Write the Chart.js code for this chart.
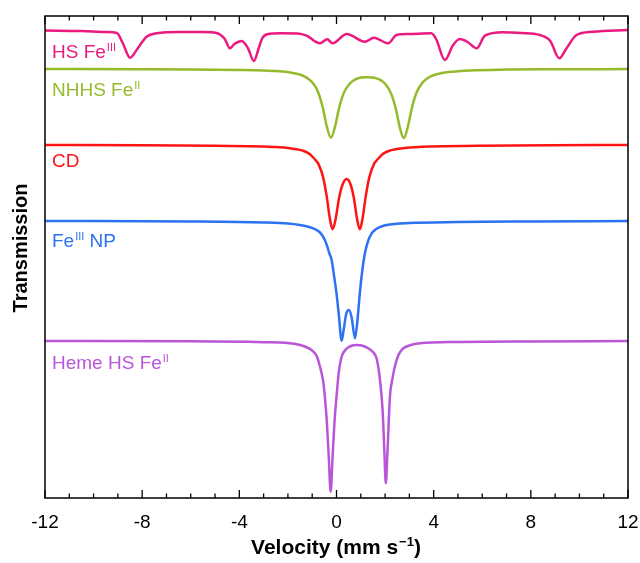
<!DOCTYPE html>
<html>
<head>
<meta charset="utf-8">
<script src="https://cdn.jsdelivr.net/npm/chart.js@4.4.1/dist/chart.umd.min.js"></script>
<style>
  html, body { margin: 0; padding: 0; background: #fff; }
  #wrap { width: 640px; height: 563px; }
</style>
</head>
<body>
<div id="wrap"><canvas id="spectra" width="640" height="563"></canvas></div>
<script>
// velocity axis
const velocityTicks = [-12, -8, -4, 0, 4, 8, 12];
const minorTicks = [-11, -10, -9, -7, -6, -5, -3, -2, -1, 1, 2, 3, 5, 6, 7, 9, 10, 11];

// vertical stacking offset of each spectrum baseline
const offsets = [467, 429, 353, 277, 157];

// [velocity mm/s, transmission relative to baseline]
const hsFe3 = [
  [-12, 0.5], [-10.5, 0], [-9.5, -1], [-9.04, -2], [-8.8, -12], [-8.5, -26.7], [-8.23, -19],
  [-8.0, -11], [-7.82, -5.7], [-7.4, -2.3], [-6.5, -1], [-5.5, -1], [-4.94, -2], [-4.6, -8],
  [-4.39, -17.3], [-4.2, -13], [-3.9, -10], [-3.65, -17], [-3.4, -30], [-3.2, -17], [-3.06, -7.3],
  [-2.85, -3.3], [-2.3, -2.3], [-1.6, -2.5], [-1.23, -4.7], [-0.68, -12.3], [-0.38, -8.3],
  [-0.16, -12.3], [0.42, -3], [1.17, -10.7], [1.54, -6.7], [2.13, -12.3], [2.47, -4], [3.0, -3],
  [3.9, -2.3], [4.1, -8], [4.46, -29], [4.8, -14], [5.08, -8], [5.4, -11], [5.77, -17.3],
  [6.11, -4.7], [6.85, -1.3], [7.6, -2], [8.37, -4], [8.8, -10], [9.17, -27.3], [9.47, -17.3],
  [9.88, -4], [10.56, -0.7], [12, 1]
];
const nhhsFe2 = [
  [-12, 0], [-8, -0.2], [-6, -0.4], [-4, -0.9], [-3, -1.4], [-2.6, -1.9], [-2.2, -2.6], [-1.8, -4],
  [-1.6, -5], [-1.4, -6.5], [-1.25, -8.4], [-1.1, -11], [-1.0, -13.3], [-0.9, -16.4], [-0.8, -20.7],
  [-0.7, -27], [-0.55, -40], [-0.4, -57.5], [-0.23, -68.7], [-0.05, -56.7], [0.1, -39.6], [0.3, -24.1],
  [0.55, -14.5], [0.8, -10.2], [1.0, -8.6], [1.24, -8.2], [1.5, -8.4], [1.75, -10.3], [2.0, -14.7],
  [2.25, -24.6], [2.45, -40.6], [2.6, -57.9], [2.77, -69], [2.95, -56.5], [3.1, -39.2], [3.3, -23.3],
  [3.55, -13.3], [3.7, -9.9], [3.9, -7.1], [4.12, -5.2], [4.35, -3.9], [4.6, -3], [5.5, -1.4],
  [7, -0.6], [9, -0.3], [12, -0.1]
];
const cdFe = [
  [-12, 0], [-8, -0.3], [-5, -0.8], [-3, -1.4], [-2.5, -2.1], [-2, -2.9], [-1.5, -4.9], [-1.35, -6],
  [-1.2, -7.6], [-1.08, -9.5], [-0.96, -12.5], [-0.85, -15.5], [-0.75, -18.6], [-0.55, -32.4],
  [-0.4, -51.9], [-0.28, -72.5], [-0.16, -84.3], [-0.04, -74.6], [0.1, -53.7], [0.25, -39.5],
  [0.42, -34], [0.58, -39.5], [0.72, -53.7], [0.85, -74.6], [0.96, -84.3], [1.08, -72.5], [1.2, -51.9],
  [1.35, -32.4], [1.55, -18.6], [1.65, -15.5], [1.76, -12.5], [1.88, -9.5], [2.0, -7.6], [2.15, -6],
  [2.3, -4.9], [2.5, -3.9], [2.8, -2.9], [3.8, -1.4], [5.8, -0.8], [8.8, -0.3], [12, 0]
];
const npFe3 = [
  [-12, 0], [-6, -0.5], [-3, -1.5], [-2, -2.5], [-1.5, -4], [-1.2, -5.5], [-0.96, -7.3], [-0.82, -9],
  [-0.7, -11], [-0.55, -15.7], [-0.4, -24], [-0.3, -32], [-0.2, -39], [-0.1, -55], [0.0, -72.3],
  [0.1, -95], [0.21, -119.7], [0.3, -108], [0.4, -93], [0.51, -89], [0.62, -96], [0.76, -117.3],
  [0.86, -100], [0.96, -72.3], [1.06, -50], [1.17, -32.3], [1.3, -20], [1.45, -12.3], [1.58, -9],
  [1.7, -7], [1.85, -5.5], [2.06, -4], [3, -2], [5, -1], [8, -0.5], [12, 0]
];
const hemeFe2 = [
  [-12, 0], [-6, -0.3], [-3, -1.2], [-2, -2], [-1.5, -4], [-1.25, -6], [-1.03, -9], [-0.9, -12],
  [-0.8, -16], [-0.68, -25.7], [-0.55, -40], [-0.48, -55.7], [-0.4, -80], [-0.32, -115],
  [-0.24, -150.7], [-0.16, -115], [-0.08, -80], [0.0, -55.7], [0.1, -30], [0.21, -15.7], [0.3, -11],
  [0.4, -8], [0.5, -6.2], [0.6, -5], [0.7, -4.3], [0.83, -4], [0.95, -4.3], [1.1, -5], [1.22, -6.2],
  [1.35, -8], [1.5, -11], [1.65, -17.3], [1.79, -39], [1.9, -70], [1.97, -110], [2.03, -142.3],
  [2.1, -110], [2.2, -55.7], [2.3, -38], [2.4, -25.7], [2.55, -14], [2.65, -10], [2.75, -7.3],
  [3.0, -4.5], [3.43, -2.3], [5, -1], [8, -0.4], [12, 0]
];

const spectra = [hsFe3, nhhsFe2, cdFe, npFe3, hemeFe2];
const colors = ["#EA1A80", "#95BB2D", "#FF1414", "#2C72F2", "#B955D9"];

// series labels, split into normal / superscript parts
const seriesLabels = [
  [["HS Fe"], ["III", 1]],
  [["NHHS Fe"], ["II", 1]],
  [["CD"]],
  [["Fe"], ["III", 1], [" NP"]],
  [["Heme HS Fe"], ["II", 1]]
];
const labelAnchors = [[52, 58], [52, 96], [52, 167], [52, 247], [52, 369]];

const FONT = "'Liberation Sans', Arial, sans-serif";

function drawRich(ctx, parts, x, y, size, weight) {
  let cx = x;
  for (const [t, sup] of parts) {
    const fs = sup ? Math.round(size * 0.6) : size;
    ctx.font = `${weight} ${fs}px ${FONT}`;
    ctx.fillText(t, cx, sup ? y - size * 0.36 : y);
    cx += ctx.measureText(t).width + (sup ? 0 : 1);
  }
  return cx - x;
}

function richWidth(ctx, parts, size, weight) {
  let w = 0;
  for (const [t, sup] of parts) {
    ctx.font = `${weight} ${sup ? Math.round(size * 0.6) : size}px ${FONT}`;
    w += ctx.measureText(t).width + (sup ? 0 : 1);
  }
  return w;
}

const framePlugin = {
  id: "frame",
  afterDraw(chart) {
    const ctx = chart.ctx;
    const { left, right, top, bottom } = chart.chartArea;
    const xs = chart.scales.x;
    ctx.save();
    ctx.strokeStyle = "#000";
    ctx.lineWidth = 1.5;
    ctx.strokeRect(left, top, right - left, bottom - top);

    ctx.lineWidth = 1.3;
    ctx.beginPath();
    for (const v of velocityTicks) {
      const px = xs.getPixelForValue(v);
      ctx.moveTo(px, bottom); ctx.lineTo(px, bottom - 8);
      ctx.moveTo(px, top); ctx.lineTo(px, top + 8);
    }
    for (const v of minorTicks) {
      const px = xs.getPixelForValue(v);
      ctx.moveTo(px, bottom); ctx.lineTo(px, bottom - 4.5);
      ctx.moveTo(px, top); ctx.lineTo(px, top + 4.5);
    }
    ctx.stroke();

    // spectrum names
    ctx.textBaseline = "alphabetic";
    seriesLabels.forEach((parts, i) => {
      ctx.fillStyle = colors[i];
      drawRich(ctx, parts, labelAnchors[i][0], labelAnchors[i][1], 19, "normal");
    });

    // axis titles
    ctx.fillStyle = "#000";
    const xt = [["Velocity (mm s"], ["\u22121", 1], [")"]];
    const w = richWidth(ctx, xt, 21, "bold");
    drawRich(ctx, xt, (left + right) / 2 - w / 2, 554, 21, "bold");

    ctx.translate(27, 248);
    ctx.rotate(-Math.PI / 2);
    ctx.font = `bold 20px ${FONT}`;
    ctx.textAlign = "center";
    ctx.fillText("Transmission", 0, 0);
    ctx.restore();
  }
};

new Chart(document.getElementById("spectra"), {
  type: "scatter",
  data: {
    datasets: spectra.map((pts, i) => ({
      data: pts.map(([v, t]) => ({ x: v, y: offsets[i] + t })),
      showLine: true,
      borderColor: colors[i],
      borderWidth: 2.5,
      pointRadius: 0,
      cubicInterpolationMode: "monotone"
    }))
  },
  options: {
    responsive: false,
    animation: false,
    devicePixelRatio: 1,
    layout: { padding: { left: 45, right: 12, top: 16, bottom: 0 } },
    plugins: { legend: { display: false }, tooltip: { enabled: false } },
    scales: {
      x: {
        type: "linear",
        min: -12,
        max: 12,
        grid: { display: false },
        border: { display: false },
        afterBuildTicks: (s) => { s.ticks = velocityTicks.map(v => ({ value: v })); },
        afterFit: (s) => { s.height = 65; s.paddingLeft = 0; s.paddingRight = 0; },
        ticks: {
          color: "#000",
          padding: 5,
          maxRotation: 0,
          font: { family: FONT, size: 19 },
          callback: (v) => String(v)
        }
      },
      y: { display: false, min: 0, max: 482 }
    }
  },
  plugins: [framePlugin]
});
</script>
</body>
</html>
